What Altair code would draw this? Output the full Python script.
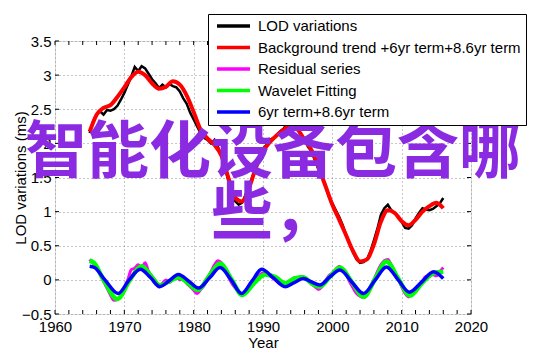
import altair as alt
import pandas as pd

FONT = "Liberation Sans"

series_names = ["LOD variations", "Background trend +6yr term+8.6yr term",
                "Residual series", "Wavelet Fitting", "6yr term+8.6yr term"]
series_colors = ["#000000", "#ff0000", "#ff00ff", "#00ff00", "#0000ff"]

# half-year sampling 1965.0 .. 2016.0
lod_years = [1965.0 + 0.5 * i for i in range(103)]
lod_values = [
    2.15, 2.32, 2.42, 2.47, 2.42, 2.49, 2.48, 2.50, 2.55, 2.64,
    2.74, 2.86, 2.98, 3.12, 3.06, 3.13, 3.10, 3.02, 2.94, 2.88,
    2.81, 2.86, 2.82, 2.87, 2.84, 2.82, 2.76, 2.66, 2.58, 2.45,
    2.35, 2.25, 2.15, 2.08, 2.05, 2.00, 2.05, 1.95, 1.82, 1.65,
    1.45, 1.28, 1.15, 1.10, 1.13, 1.25, 1.38, 1.52, 1.65, 1.78,
    1.92, 1.98, 2.05, 2.08, 2.12, 2.18, 2.22, 2.30, 2.32, 2.30,
    2.22, 2.12, 2.05, 1.95, 1.88, 1.75, 1.62, 1.50, 1.38, 1.22,
    1.12, 1.02, 0.92, 0.80, 0.65, 0.52, 0.40, 0.30, 0.25, 0.26,
    0.30, 0.42, 0.58, 0.75, 0.95, 1.05, 1.10, 1.02, 0.98, 0.93,
    0.85, 0.76, 0.75, 0.80, 0.90, 0.98, 1.05, 1.03, 1.02, 1.04,
    1.08, 1.12, 1.20,
]

trend_years = list(range(1965, 2017))
trend_values = [
    2.17, 2.42, 2.52, 2.56, 2.68, 2.82, 2.97, 3.05, 3.00, 2.88,
    2.80, 2.83, 2.91, 2.86, 2.70, 2.46, 2.20, 2.07, 1.98, 1.82,
    1.50, 1.20, 1.15, 1.35, 1.65, 1.88, 2.02, 2.12, 2.20, 2.27,
    2.20, 2.05, 1.90, 1.65, 1.38, 1.10, 0.88, 0.65, 0.42, 0.27,
    0.30, 0.52, 0.85, 1.02, 0.98, 0.86, 0.80, 0.88, 1.00, 1.08,
    1.13, 1.05,
]

resid_years = lod_years
resid_values = [
    0.30, 0.24, 0.20, 0.08, -0.02, -0.12, -0.22, -0.30, -0.29, -0.22,
    -0.12, 0.00, 0.15, 0.17, 0.22, 0.18, 0.25, 0.12, 0.05, -0.02,
    -0.10, -0.05, 0.00, -0.04, 0.02, 0.05, 0.00, 0.03, -0.05, -0.10,
    -0.15, -0.20, -0.14, -0.08, 0.02, 0.12, 0.22, 0.28, 0.25, 0.15,
    0.05, -0.05, -0.12, -0.18, -0.23, -0.18, -0.12, -0.05, 0.02, 0.07,
    0.10, 0.08, 0.06, 0.02, -0.02, -0.06, -0.04, -0.06, -0.02, 0.03,
    0.02, 0.05, 0.02, 0.00, -0.06, -0.10, -0.14, -0.10, -0.02, 0.06,
    0.10, 0.15, 0.20, 0.15, 0.08, -0.03, -0.12, -0.20, -0.24, -0.26,
    -0.20, -0.10, 0.00, 0.12, 0.22, 0.28, 0.30, 0.22, 0.12, 0.02,
    -0.10, -0.20, -0.25, -0.20, -0.15, -0.10, -0.02, 0.05, 0.05, 0.08,
    0.06, 0.12, 0.18,
]

wave_years = [1965.0, 1965.6, 1967.0, 1969.0, 1970.8, 1972.5, 1973.9, 1975.1, 1976.5,
              1977.8, 1979.2, 1980.6, 1982.2, 1983.8, 1985.5, 1987.0, 1988.7, 1990.3,
              1991.8, 1993.2, 1994.5, 1995.8, 1997.0, 1998.2, 1999.7, 2001.1, 2002.8,
              2004.5, 2006.2, 2007.8, 2009.5, 2011.2, 2012.9, 2014.6, 2016.0]
wave_values = [0.28, 0.25, 0.00, -0.28, 0.00, 0.20, 0.05, -0.08, -0.02,
               0.04, -0.05, -0.15, 0.05, 0.24, 0.00, -0.22, -0.05, 0.08,
               0.04, -0.05, 0.02, 0.04, -0.05, -0.10, 0.05, 0.18, -0.03,
               -0.25, 0.02, 0.27, 0.02, -0.23, -0.05, 0.10, 0.12]

term_years = [1965.0, 1965.7, 1967.2, 1969.1, 1970.7, 1972.3, 1973.8, 1975.1, 1976.5,
              1977.8, 1979.3, 1980.7, 1982.3, 1983.8, 1985.4, 1986.9, 1988.4, 1989.8,
              1991.5, 1993.2, 1994.5, 1995.8, 1997.0, 1998.2, 1999.6, 2001.1, 2002.8,
              2004.5, 2006.2, 2007.8, 2009.5, 2011.1, 2012.9, 2014.6, 2016.0]
term_values = [0.20, 0.18, 0.00, -0.20, 0.00, 0.155, 0.03, -0.10, -0.01,
               0.08, -0.02, -0.12, 0.03, 0.18, 0.00, -0.20, -0.02, 0.155,
               0.03, -0.10, -0.04, 0.02, -0.03, -0.075, 0.04, 0.145, -0.03,
               -0.20, 0.00, 0.19, 0.00, -0.18, -0.03, 0.12, 0.02]

x_label_years = list(range(1960, 2021, 10))
x_tick_years = list(range(1960, 2021, 2))
y_ticks = [-0.5, 0, 0.5, 1, 1.5, 2, 2.5, 3, 3.5]

overlay_lines = ["智能化设备包含哪", "些，"]

W, H = 416, 273

xs = alt.Scale(domain=[1960, 2020], nice=False, zero=False)
ys = alt.Scale(domain=[-0.5, 3.5], nice=False, zero=False)

xaxis = alt.Axis(values=x_label_years, format="d", grid=True, ticks=False, domain=False,
                 labelFont=FONT, labelFontSize=15, labelColor="black", labelPadding=5,
                 labelFlush=False, title="Year", titleFont=FONT, titleFontSize=15,
                 titleFontWeight="normal", titleColor="black", titlePadding=1,
                 gridColor="#8c8c8c", gridDash=[1, 3], gridWidth=1)
yaxis = alt.Axis(values=y_ticks, format="~g", grid=True, ticks=False, domain=False,
                 labelFont=FONT, labelFontSize=15, labelColor="black", labelPadding=4,
                 title="LOD variations (ms)", titleFont=FONT, titleFontSize=15,
                 titleFontWeight="normal", titleColor="black", titleX=-35,
                 titleBaseline="middle",
                 gridColor="#8c8c8c", gridDash=[1, 3], gridWidth=1)

legend = alt.Legend(title=None, orient="none", legendX=153, legendY=-27,
                    strokeColor="black", fillColor="white", padding=5,
                    symbolType="stroke", symbolSize=1089, symbolStrokeWidth=3.5,
                    clipHeight=14, rowPadding=6.5, labelFont=FONT, labelFontSize=15,
                    labelColor="black", labelOffset=6, symbolOffset=2,
                    labelLimit=400)

color = alt.Color("series:N", scale=alt.Scale(domain=series_names, range=series_colors),
                  legend=legend)


def series_df(name, years, values):
    return pd.DataFrame({"year": years, "value": values, "series": name})


def line(df, width, interp):
    return alt.Chart(df).mark_line(strokeWidth=width, interpolate=interp).encode(
        x=alt.X("year:Q", scale=xs, axis=xaxis),
        y=alt.Y("value:Q", scale=ys, axis=yaxis),
        color=color,
    )


l_lod = line(series_df(series_names[0], lod_years, lod_values), 2.5, "linear")
l_trend = line(series_df(series_names[1], trend_years, trend_values), 4, "monotone")
l_resid = line(series_df(series_names[2], resid_years, resid_values), 3, "monotone")
l_wave = line(series_df(series_names[3], wave_years, wave_values), 4.5, "monotone")
l_term = line(series_df(series_names[4], term_years, term_values), 3.5, "monotone")

xt = pd.DataFrame({"year": x_tick_years})
yt = pd.DataFrame({"v": y_ticks})
tick_bottom = alt.Chart(xt).mark_rule(color="black", strokeWidth=1).encode(
    x=alt.X("year:Q", scale=xs, axis=xaxis), y=alt.value(H), y2=alt.value(H - 4))
tick_top = alt.Chart(xt).mark_rule(color="black", strokeWidth=1).encode(
    x=alt.X("year:Q", scale=xs, axis=xaxis), y=alt.value(0), y2=alt.value(4))
tick_left = alt.Chart(yt).mark_rule(color="black", strokeWidth=1).encode(
    y=alt.Y("v:Q", scale=ys, axis=yaxis), x=alt.value(0), x2=alt.value(4))
tick_right = alt.Chart(yt).mark_rule(color="black", strokeWidth=1).encode(
    y=alt.Y("v:Q", scale=ys, axis=yaxis), x=alt.value(W), x2=alt.value(W - 4))

text1 = alt.Chart(pd.DataFrame({"t": [overlay_lines[0]]})).mark_text(
    font="Noto Sans CJK SC", fontSize=62, fontWeight="bold", color="#8a2be2",
    align="center", baseline="middle").encode(text="t:N", x=alt.value(218), y=alt.value(113))
text2 = alt.Chart(pd.DataFrame({"t": [overlay_lines[1]]})).mark_text(
    font="Noto Sans CJK SC", fontSize=62, fontWeight="bold", color="#8a2be2",
    align="center", baseline="middle").encode(text="t:N", x=alt.value(218), y=alt.value(174))

chart = alt.layer(
    l_lod, l_trend, l_resid, l_wave, l_term,
    tick_bottom, tick_top, tick_left, tick_right,
    text1, text2,
).properties(
    width=W, height=H,
    autosize=alt.AutoSizeParams(type="none"),
    padding={"left": 55, "top": 41, "right": 71, "bottom": 42},
).configure_view(stroke="black", strokeWidth=1).configure(background="white")

chart.save("out.html", embed_options={"renderer": "svg", "actions": False})
